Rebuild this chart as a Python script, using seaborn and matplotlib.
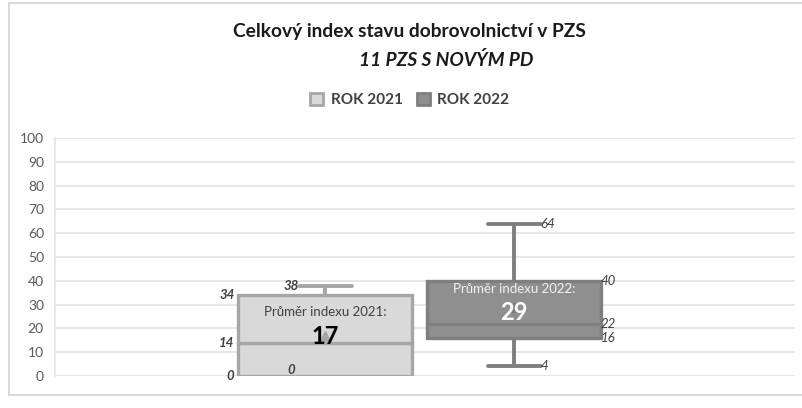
import matplotlib
matplotlib.use("Agg")
import matplotlib.pyplot as plt
import seaborn as sns
import pandas as pd
from matplotlib.lines import Line2D
from matplotlib.patches import Patch

# ---- data ----
categories = ["ROK 2021", "ROK 2022"]
mins = [0, 4]
q1s = [0, 16]
medians = [14, 22]
q3s = [34, 40]
maxs = [38, 64]
means = [17, 29]
mean_labels = ["Průměr indexu 2021:", "Průměr indexu 2022:"]
yticks = list(range(0, 101, 10))
title = "Celkový index stavu dobrovolnictví v PZS"
subtitle = "11 PZS S NOVÝM PD"

# ---- style ----
sns.set_theme(style="white")
plt.rcParams["font.family"] = ["Lato", "DejaVu Sans"]

fills = ["#d9d9d9", "#8f8f8f"]
edges = ["#a6a6a6", "#7f7f7f"]
whisk = ["#a6a6a6", "#7f7f7f"]
lab_col = "#404040"

fig = plt.figure(figsize=(8.02, 4.08), dpi=100)
ax = fig.add_axes([55 / 802, 1 - 376 / 408, (795 - 55) / 802, (376 - 138) / 408])

box_w = 0.92
cap_hw = 0.14
wlw = 2.8

for i, cat in enumerate(categories):
    # whiskers (behind boxes)
    ax.plot([i, i], [q3s[i], maxs[i]], color=whisk[i], lw=wlw, zorder=2, solid_capstyle="butt")
    ax.plot([i, i], [mins[i], q1s[i]], color=whisk[i], lw=wlw, zorder=2, solid_capstyle="butt")
    ax.plot([i - cap_hw, i + cap_hw], [maxs[i], maxs[i]], color=whisk[i], lw=wlw, zorder=2)
    ax.plot([i - cap_hw, i + cap_hw], [mins[i], mins[i]], color=whisk[i], lw=wlw, zorder=2)

    # lower and upper box segments
    df_lo = pd.DataFrame({"cat": [cat], "h": [medians[i] - q1s[i]]})
    df_hi = pd.DataFrame({"cat": [cat], "h": [q3s[i] - medians[i]]})
    sns.barplot(data=df_lo, x="cat", y="h", order=categories, color=fills[i],
                saturation=1, width=box_w, bottom=q1s[i], edgecolor=edges[i],
                linewidth=2.4, ax=ax, zorder=3)
    sns.barplot(data=df_hi, x="cat", y="h", order=categories, color=fills[i],
                saturation=1, width=box_w, bottom=medians[i], edgecolor=edges[i],
                linewidth=2.4, ax=ax, zorder=3)

    # mean marker
    ax.plot([i], [means[i]], marker="^", color=edges[i], ms=7, zorder=4, ls="none")

# value labels
# 2021: left side, bold italic
i = 0
ax.text(i - cap_hw, maxs[i], f"{maxs[i]}", ha="right", va="center", fontsize=9.5,
        style="italic", weight="bold", color=lab_col, zorder=6)
for v in (q3s[i], medians[i], q1s[i]):
    ax.text(i - box_w / 2 - 0.02, v, f"{v}", ha="right", va="center", fontsize=9.5,
            style="italic", weight="bold", color=lab_col, zorder=6)
ax.text(i - cap_hw - 0.02, mins[i] + 2.5, f"{mins[i]}", ha="right", va="center", fontsize=9.5,
        style="italic", weight="bold", color=lab_col, zorder=6)
# 2022: right side, italic
i = 1
ax.text(i + cap_hw, maxs[i], f"{maxs[i]}", ha="left", va="center", fontsize=9.5,
        style="italic", color=lab_col, zorder=6)
for v in (q3s[i], medians[i], q1s[i]):
    ax.text(i + box_w / 2, v, f"{v}", ha="left", va="center", fontsize=9.5,
            style="italic", color=lab_col, zorder=6)
ax.text(i + cap_hw, mins[i], f"{mins[i]}", ha="left", va="center", fontsize=9.5,
        style="italic", color=lab_col, zorder=6)

# mean texts
ax.text(0, means[0] + 10, mean_labels[0], ha="center", va="center", fontsize=9.5,
        color=lab_col, zorder=6)
ax.text(0, means[0] - 0.5, f"{means[0]}", ha="center", va="center", fontsize=17,
        weight="bold", color="black", zorder=6)
ax.text(1, means[1] + 7.5, mean_labels[1], ha="center", va="center", fontsize=9.5,
        color="#f2f2f2", zorder=6)
ax.text(1, means[1] - 2.5, f"{means[1]}", ha="center", va="center", fontsize=17,
        weight="bold", color="white", zorder=6)

# axes formatting
ax.set_xlim(-1.43, 2.487)
ax.set_ylim(0, 100)
ax.set_yticks(yticks)
ax.set_yticklabels([str(t) for t in yticks], fontsize=10, color="#595959")
ax.set_xticks([])
ax.set_xlabel("")
ax.set_ylabel("")
ax.yaxis.grid(True, color="#e3e3e3", lw=1.2)
ax.set_axisbelow(True)
for s in ("top", "right", "bottom"):
    ax.spines[s].set_visible(False)
ax.spines["left"].set_color("#e3e3e3")
ax.spines["left"].set_linewidth(1.2)
ax.tick_params(axis="y", length=0, pad=8)

# titles
fig.text(409 / 802, 1 - 31 / 408, title, ha="center", va="center", fontsize=13.8,
         weight="bold", color="#1a1a1a")
fig.text(446 / 802, 1 - 60 / 408, subtitle, ha="center", va="center", fontsize=13.8,
         weight="bold", style="italic", color="#1a1a1a")

# legend
handles = [Patch(facecolor=fills[k], edgecolor=edges[k], linewidth=2) for k in range(2)]
leg = fig.legend(handles, categories, loc="center", bbox_to_anchor=(410 / 802, 1 - 100 / 408),
                 ncol=2, frameon=False, handlelength=0.85, handleheight=0.85,
                 handletextpad=0.5, columnspacing=0.9, fontsize=11)
for t in leg.get_texts():
    t.set_weight("bold")
    t.set_color("#404040")

# outer frame lines
frame_col = "#d9d9d9"
fig.add_artist(Line2D([9 / 802, 9 / 802], [1 - 3 / 408, 1 - 395 / 408], color=frame_col, lw=1.5))
fig.add_artist(Line2D([9 / 802, 1.0], [1 - 3 / 408, 1 - 3 / 408], color=frame_col, lw=1.5))
fig.add_artist(Line2D([9 / 802, 1.0], [1 - 395 / 408, 1 - 395 / 408], color=frame_col, lw=1.5))

fig.savefig("out.png", dpi=100)
